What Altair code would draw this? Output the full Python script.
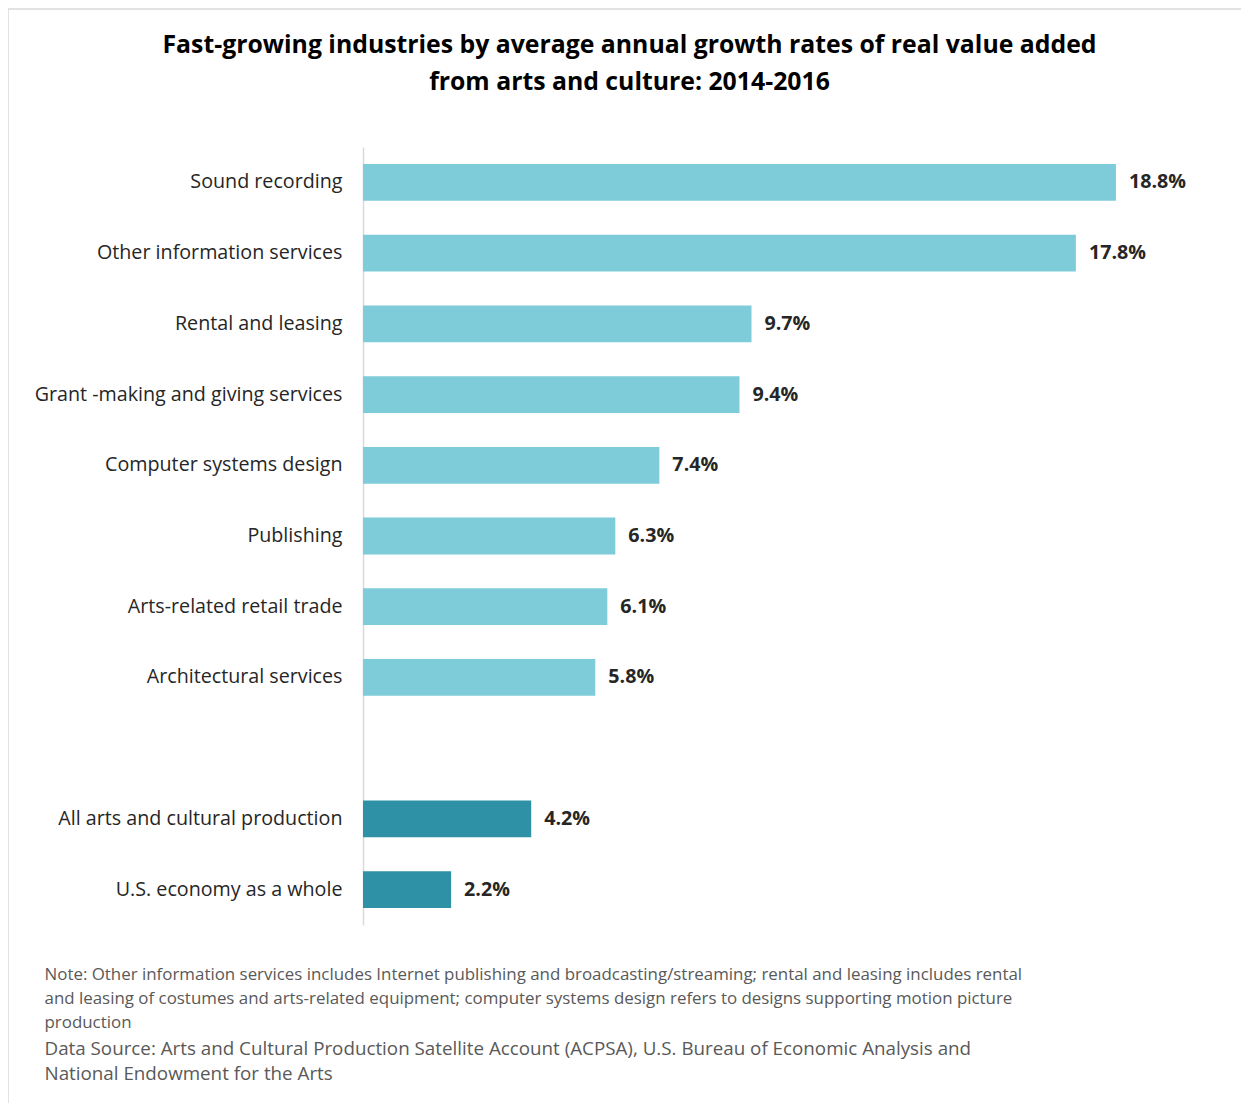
import altair as alt
import pandas as pd

categories = [
    "Sound recording",
    "Other information services",
    "Rental and leasing",
    "Grant -making and giving services",
    "Computer systems design",
    "Publishing",
    "Arts-related retail trade",
    "Architectural services",
    "All arts and cultural production",
    "U.S. economy as a whole",
]
values = [18.8, 17.8, 9.7, 9.4, 7.4, 6.3, 6.1, 5.8, 4.2, 2.2]
groups = ["industry"] * 8 + ["total"] * 2
value_labels = ["18.8%", "17.8%", "9.7%", "9.4%", "7.4%", "6.3%", "6.1%", "5.8%", "4.2%", "2.2%"]

y_domain = categories[:8] + [" "] + categories[8:]

note_lines = [
    "Note: Other information services includes Internet publishing and broadcasting/streaming; rental and leasing includes rental",
    "and leasing of costumes and arts-related equipment; computer systems design refers to designs supporting motion picture",
    "production",
]
source_lines = [
    "Data Source: Arts and Cultural Production Satellite Account (ACPSA), U.S. Bureau of Economic Analysis and",
    "National Endowment for the Arts",
]

df = pd.DataFrame({"category": categories, "value": values, "group": groups, "label": value_labels})

FONT = "Open Sans"
W, H = 801, 778

y_enc = alt.Y(
    "category:N",
    sort=y_domain,
    scale=alt.Scale(domain=y_domain, paddingInner=0.48, paddingOuter=0.24),
    axis=alt.Axis(
        ticks=False, labelPadding=21, labelFontSize=19.7, labelFont=FONT,
        labelColor="#262626", domainColor="#d9d9d9", domainWidth=1.5, labelLimit=400,
        title=source_lines, titleFont=FONT, titleFontSize=18.8, titleFontWeight="normal",
        titleColor="#595959", titleAngle=0, titleAlign="left", titleBaseline="top",
        titleX=-319, titleY=H + 114, titleLineHeight=25,
    ),
)

x_enc = alt.X(
    "value:Q",
    scale=alt.Scale(domain=[0, 20]),
    axis=alt.Axis(
        grid=False, ticks=False, labels=False, domain=False,
        title=note_lines, titleFont=FONT, titleFontSize=16.9, titleFontWeight="normal",
        titleColor="#595959", titleAlign="left", titleBaseline="top",
        titleX=-319, titleY=41, titleLineHeight=24.3,
    ),
)

bars = alt.Chart(df).mark_bar().encode(
    x=x_enc,
    y=y_enc,
    color=alt.Color(
        "group:N",
        scale=alt.Scale(domain=["industry", "total"], range=["#7ECBD9", "#2E91A6"]),
        legend=None,
    ),
)

texts = alt.Chart(df).mark_text(
    align="left", baseline="middle", dx=13, fontSize=19.7, fontWeight="bold", font=FONT, color="#262626"
).encode(x=x_enc, y=y_enc, text="label:N")

# light frame of the chart area (top and left edges)
frame_top = alt.Chart(df.head(1)).mark_rule(color="#d9d9d9", strokeWidth=1.5).encode(
    x=alt.value(-355), x2=alt.value(W + 100), y=alt.value(-138)
)
frame_left = alt.Chart(df.head(1)).mark_rule(color="#d9d9d9", strokeWidth=1.5).encode(
    x=alt.value(-355), y=alt.value(-138), y2=alt.value(H + 200)
)

chart = (
    alt.layer(frame_top, frame_left, bars, texts)
    .properties(
        width=W,
        height=H,
        background="white",
        autosize=alt.AutoSizeParams(type="none"),
        padding={"left": 355, "top": 139, "right": 77, "bottom": 178},
        title=alt.TitleParams(
            text=[
                "Fast-growing industries by average annual growth rates of real value added",
                "from arts and culture: 2014-2016",
            ],
            font=FONT, fontSize=24.8, fontWeight="bold", color="#000000",
            anchor="middle", dx=-134, offset=0, dy=87, lineHeight=37,
        ),
    )
    .configure_view(strokeWidth=0, stroke="transparent")
)

chart.save("out.html", embed_options={"renderer": "svg", "actions": False})
